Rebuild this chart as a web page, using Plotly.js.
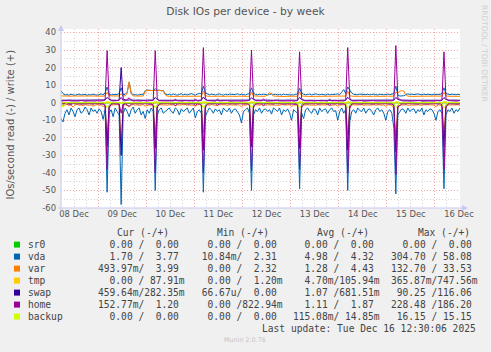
<!DOCTYPE html>
<html><head><meta charset="utf-8">
<script src="https://cdn.plot.ly/plotly-3.0.1.min.js"></script>
<style>html,body{margin:0;padding:0;background:#f0f0f0;}#chart{width:491px;height:352px;}</style>
</head><body><div id="chart"></div>
<script>
// hourly samples starting 2025-12-08 05:30; each row after the first starts at the daily 04:30 burst
const startTime = Date.UTC(2025, 11, 8, 5, 30);

const vdaRead = [
 -9,-11,-6,-4,-7,-3,-5,-8,-4,-3,-6,-5,-2.5,-4,-7,-3,-5,-4,-6,-3.5,-5,-9.5,-4,
 -51,-6,-4,-8,-3,-5,-7,-58,-6,-3,-5,-8,-4,-2.5,-6,-4,-3,-7,-5,-9,-4,-6,-3,-5,
 -50,-7,-4,-3,-6,-5,-4,-3,-5,-6,-3,-4,-7,-3.5,-5,-4,-3,-6,-4.5,-3,-8.7,-5,-4,-6,
 -51,-8,-5,-3,-4,-6,-3.5,-5,-4,-7,-3,-4.5,-5,-3,-6,-4,-3.5,-5,-7,-11.6,-5,-4,-3,-6,
 -50,-7,-4,-5,-3,-6,-4,-3.5,-5,-4,-6.5,-3,-4,-5,-3,-7,-4,-5,-3.5,-6,-10,-4,-5,-6,
 -49,-6,-9,-4,-3,-5,-6,-3.5,-4,-7,-3,-5,-4,-3.5,-6,-4,-3,-5,-4.5,-10,-5,-3,-6,-4,
 -50,-11,-5,-4,-6,-3,-4.5,-5,-3,-6,-4,-3.5,-5,-7,-4,-3,-5,-4,-6,-10,-5,-4,-6,-14.5,
 -52,-7,-5,-3.5,-4,-6,-3,-5,-4,-3.5,-6,-4,-5,-3,-7,-4,-5,-3.5,-4,-6,-10,-5,-4,-6,
 -49,-7,-4,-5,-3,-6,-4,-5,-3
];
const vdaWrite = [
 6.8,5.2,4.4,4.6,4.3,4.8,4.5,4.2,4.6,4.9,4.4,4.5,4.7,4.3,4.6,4.4,4.8,4.5,4.3,4.6,5.0,4.4,5.6,
 9.0,4.8,4.5,4.6,4.4,4.7,5.2,8.5,4.6,4.8,6.0,11.5,5.5,4.5,4.6,4.3,4.5,4.8,4.6,6.8,7.2,7.0,7.1,6.9,
 8.0,7.0,7.1,6.8,7.0,5.0,4.5,4.8,4.4,5.0,4.6,4.3,4.7,5.1,4.5,4.8,4.4,4.6,5.2,4.7,4.3,4.9,5.3,5.0,
 9.5,5.6,4.8,4.5,4.9,4.6,4.4,4.7,5.0,4.6,4.3,4.8,4.5,4.9,4.7,4.4,4.6,5.1,4.5,4.8,4.6,4.4,4.9,5.2,
 8.5,5.4,4.7,4.5,4.8,4.6,4.9,4.5,4.4,4.7,5.0,4.6,4.8,4.5,4.7,4.4,4.9,4.6,4.5,4.8,4.6,4.4,4.7,5.1,
 8.2,5.5,4.8,4.5,4.7,4.9,4.4,4.6,5.0,4.7,4.5,4.8,4.6,4.4,4.9,4.5,4.7,4.6,4.8,5.0,4.6,6.0,7.5,5.2,
 9.0,7.2,5.6,4.8,4.6,4.5,4.9,4.7,4.4,4.6,4.8,4.5,4.7,4.9,4.6,4.4,4.8,4.6,4.5,4.7,4.9,4.6,4.8,5.2,
 9.5,4.5,3.8,3.9,4.0,4.6,5.0,4.7,4.9,4.6,4.8,5.0,4.7,4.5,4.9,4.6,4.8,4.7,4.5,4.9,4.6,4.8,4.7,5.3,
 8.5,5.2,4.8,4.6,4.9,4.7,4.5,4.8,4.6
];
const varRead = [
 -1.5,-2,-1.2,-1,-1.5,-1.3,-2.5,-1.2,-1,-1.4,-1.2,-1.8,-1.1,-1.3,-1.5,-1.2,-2,-1.3,-1.1,-1.5,-1.2,-2.2,-1.4,
 -20,-2.5,-1.3,-1.2,-1.5,-1.1,-1.4,-23,-1.5,-1.2,-1.6,-2.5,-1.3,-1.1,-1.4,-1.2,-1.5,-1.3,-1.1,-2,-1.4,-1.2,-1.5,-1.3,
 -18,-2,-1.3,-1.1,-1.4,-1.2,-1.5,-1.1,-1.3,-1.2,-1.6,-1.1,-1.3,-1.4,-1.2,-1.1,-1.5,-1.3,-1.2,-1.4,-2,-1.2,-1.1,-1.5,
 -17,-2.2,-1.2,-1.4,-1.1,-1.3,-1.5,-1.2,-1.1,-1.4,-1.3,-1.2,-1.6,-1.1,-1.3,-1.2,-1.4,-1.1,-1.3,-2.4,-1.2,-1.4,-1.1,-1.3,
 -18,-2,-1.3,-1.2,-1.4,-1.1,-1.3,-1.5,-1.2,-1.3,-1.1,-1.4,-1.2,-1.3,-1.5,-1.1,-1.2,-1.4,-1.3,-1.1,-2.2,-1.3,-1.2,-1.4,
 -17,-2.1,-1.4,-1.2,-1.1,-1.3,-1.2,-1.4,-1.5,-1.1,-1.3,-1.2,-1.4,-1.1,-1.3,-1.2,-1.5,-1.3,-1.1,-2,-1.3,-1.2,-1.4,-1.2,
 -18,-2.5,-1.3,-1.1,-1.4,-1.2,-1.3,-1.1,-1.5,-1.2,-1.4,-1.3,-1.1,-1.2,-1.4,-1.3,-1.1,-1.5,-1.2,-2.1,-1.3,-1.2,-1.4,-3,
 -19,-2,-1.4,-1.2,-1.3,-1.1,-1.5,-1.2,-1.3,-1.4,-1.1,-1.2,-1.3,-1.5,-1.2,-1.1,-1.4,-1.3,-1.2,-1.4,-2.3,-1.2,-1.3,-1.5,
 -17,-2,-1.3,-1.2,-1.4,-1.1,-1.3,-1.2,-1.4
];
const varWrite = [
 3.9,3.8,3.7,3.8,3.8,3.7,3.8,3.9,3.8,3.7,3.8,3.8,3.9,3.8,3.7,3.8,3.8,3.7,3.8,3.9,3.8,3.7,4.0,
 6.0,3.9,3.8,3.8,3.7,3.8,3.9,5.0,3.8,3.9,5.5,12.0,5.0,3.9,3.8,3.8,3.7,3.8,3.8,6.5,7.0,6.9,7.0,6.8,
 7.0,6.9,7.0,6.8,6.9,4.5,3.7,3.6,3.6,3.7,3.6,3.5,3.6,3.6,3.7,3.6,3.5,3.6,3.6,3.7,3.6,3.6,3.5,3.7,
 6.5,3.9,3.7,3.6,3.6,3.5,3.6,3.7,3.6,3.6,3.5,3.6,3.7,3.6,3.6,3.5,3.6,3.6,3.7,3.6,3.6,3.5,3.6,3.7,
 6.0,3.9,3.7,3.6,3.7,3.6,3.6,3.7,4.5,5.8,4.8,3.8,3.7,3.6,3.6,3.7,3.6,3.5,3.6,3.6,3.7,3.6,3.6,3.7,
 6.2,3.9,3.7,3.6,3.6,3.7,3.6,3.5,3.6,3.6,3.7,3.6,3.6,3.5,3.6,3.7,3.6,3.6,3.5,3.6,3.7,3.6,3.6,3.8,
 6.5,4.0,3.7,3.6,3.6,3.5,3.6,3.7,3.6,3.6,3.5,3.6,3.6,3.7,3.6,3.6,3.5,3.6,3.6,3.7,3.6,3.6,3.7,3.8,
 6.0,5.5,6.7,6.8,6.6,4.5,3.7,3.6,3.6,3.7,3.6,3.6,3.5,3.6,3.7,3.6,3.6,3.5,3.6,3.7,3.6,3.6,3.7,3.8,
 6.0,3.9,3.7,3.6,3.6,3.7,3.6,3.6,3.7
];
const swapRead = [
 -0.3,-0.4,-0.3,-0.2,-0.3,-0.4,-0.3,-0.3,-0.2,-0.3,-0.4,-0.3,-0.3,-0.2,-0.3,-0.4,-0.3,-0.3,-0.2,-0.3,-0.3,-0.4,-0.5,
 -25,-1.5,-0.4,-0.3,-0.3,-0.4,-0.6,-30,-1.2,-0.4,-0.3,-0.5,-0.3,-0.2,-0.3,-0.4,-0.3,-0.3,-0.2,-0.3,-0.4,-0.3,-0.3,-0.4,
 -26,-1.2,-0.4,-0.3,-0.3,-0.2,-0.3,-0.4,-0.3,-0.3,-0.2,-0.3,-0.4,-0.3,-0.3,-0.2,-0.3,-0.4,-0.3,-0.3,-0.2,-0.3,-0.3,-0.4,
 -27,-1.3,-0.3,-0.4,-0.3,-0.3,-0.2,-0.3,-0.4,-0.3,-0.3,-0.2,-0.3,-0.4,-0.3,-0.3,-0.2,-0.3,-0.3,-0.4,-0.3,-0.3,-0.2,-0.4,
 -25,-1.2,-0.4,-0.3,-0.2,-0.3,-0.3,-0.4,-0.3,-0.2,-0.3,-0.3,-0.4,-0.3,-0.2,-0.3,-0.3,-0.4,-0.3,-0.3,-0.2,-0.3,-0.4,-0.4,
 -26,-1.1,-0.3,-0.3,-0.4,-0.3,-0.2,-0.3,-0.3,-0.4,-0.3,-0.2,-0.3,-0.3,-0.4,-0.3,-0.3,-0.2,-0.3,-0.4,-0.3,-0.3,-0.2,-0.4,
 -27,-1.3,-0.4,-0.3,-0.3,-0.2,-0.3,-0.4,-0.3,-0.3,-0.2,-0.3,-0.4,-0.3,-0.3,-0.2,-0.3,-0.4,-0.3,-0.3,-0.2,-0.3,-0.3,-0.5,
 -28,-1.4,-0.3,-0.3,-0.4,-0.3,-0.2,-0.3,-0.3,-0.4,-0.3,-0.3,-0.2,-0.3,-0.4,-0.3,-0.3,-0.2,-0.3,-0.3,-0.4,-0.3,-0.3,-0.4,
 -25,-1.2,-0.4,-0.3,-0.3,-0.2,-0.3,-0.4,-0.3
];
const swapWrite = [
 1.4,1.5,1.4,1.3,1.4,1.5,1.4,1.4,1.3,1.4,1.5,1.4,1.4,1.3,1.4,1.5,1.4,1.4,1.3,1.4,1.4,1.5,1.6,
 3.0,1.8,1.5,1.4,1.4,1.3,1.6,20.0,2.0,1.5,1.4,1.6,1.4,1.3,1.4,1.5,1.4,1.4,1.3,1.4,1.5,1.4,1.4,1.5,
 3.0,1.8,1.4,1.5,1.4,1.3,1.4,1.4,1.5,1.4,1.3,1.4,1.4,1.5,1.4,1.3,1.4,1.4,1.5,1.4,1.4,1.3,1.4,1.5,
 3.2,1.7,1.4,1.4,1.3,1.5,1.4,1.4,1.3,1.4,1.5,1.4,1.4,1.3,1.4,1.4,1.5,1.4,1.3,1.4,1.4,1.5,1.4,1.5,
 2.8,1.8,1.5,1.4,1.4,1.3,1.4,1.5,1.4,1.4,1.3,1.4,1.5,1.4,1.4,1.3,1.4,1.5,1.4,1.4,1.3,1.4,1.4,1.5,
 3.0,1.7,1.4,1.3,1.4,1.5,1.4,1.4,1.3,1.4,1.4,1.5,1.4,1.3,1.4,1.4,1.5,1.4,1.4,1.3,1.4,1.5,1.4,1.5,
 3.1,1.8,1.4,1.4,1.5,1.4,1.3,1.4,1.4,1.5,1.4,1.3,1.4,1.4,1.5,1.4,1.3,1.4,1.4,1.5,1.4,1.4,1.3,1.5,
 3.0,1.9,1.5,1.4,1.3,1.4,1.5,1.4,1.4,1.3,1.4,1.5,1.4,1.4,1.3,1.4,1.5,1.4,1.4,1.3,1.4,1.5,1.4,1.5,
 2.9,1.8,1.4,1.4,1.5,1.4,1.3,1.4,1.4
];
const homeRead = [
 -0.6,-0.8,-0.5,-0.7,-0.6,-1.0,-0.5,-0.6,-0.7,-0.5,-0.6,-0.8,-0.6,-0.5,-0.7,-0.6,-0.9,-0.5,-0.6,-0.7,-0.6,-0.8,-1.5,
 -38,-3.0,-0.9,-0.6,-0.7,-0.5,-0.8,-6.0,-0.7,-0.6,-1.5,-2.0,-0.8,-0.6,-0.5,-0.7,-0.6,-0.8,-0.5,-0.6,-0.7,-0.6,-0.9,-1.2,
 -40,-2.5,-0.8,-0.6,-0.5,-0.7,-0.6,-0.5,-0.8,-0.6,-1.8,-0.7,-0.5,-0.6,-0.7,-0.6,-0.5,-0.8,-0.6,-0.7,-1.5,-0.6,-0.8,-1.0,
 -40,-2.8,-0.7,-0.6,-0.8,-0.5,-0.6,-1.6,-0.7,-0.6,-0.5,-0.8,-0.6,-0.7,-0.5,-0.6,-0.8,-0.6,-0.5,-0.7,-0.6,-0.8,-0.7,-1.1,
 -39,-2.6,-0.8,-0.6,-0.5,-0.7,-1.8,-0.6,-0.5,-0.7,-0.6,-0.8,-0.5,-0.6,-0.7,-0.6,-0.5,-0.8,-0.6,-0.7,-0.6,-0.5,-0.8,-1.0,
 -38,-2.7,-0.7,-0.6,-0.8,-0.5,-0.6,-0.7,-0.5,-0.8,-0.6,-0.7,-0.5,-0.6,-0.8,-1.6,-0.6,-0.7,-0.5,-0.6,-0.8,-0.6,-0.7,-1.2,
 -40,-3.0,-0.8,-0.6,-0.7,-0.5,-0.6,-0.8,-0.6,-0.5,-0.7,-0.6,-0.8,-0.5,-0.6,-0.7,-0.6,-0.5,-0.8,-0.6,-0.7,-0.6,-0.8,-1.4,
 -41,-2.5,-1.8,-0.7,-0.6,-0.8,-0.5,-0.6,-0.7,-0.5,-0.6,-0.8,-0.6,-0.7,-0.5,-0.6,-0.8,-0.6,-0.5,-0.7,-0.6,-0.8,-0.6,-1.1,
 -38,-2.6,-0.8,-0.6,-0.7,-0.5,-0.6,-0.8,-0.6
];
const homeWrite = [
 1.0,1.1,0.9,1.0,1.2,1.0,0.9,1.1,1.0,1.0,1.3,1.0,0.9,1.0,1.1,1.0,1.0,0.9,1.2,1.0,1.0,1.1,1.5,
 29.7,2.5,1.2,1.0,1.1,1.0,1.3,3.0,1.2,1.0,2.2,2.8,1.5,1.0,1.1,1.0,0.9,1.0,1.2,1.0,1.0,1.1,1.0,1.3,
 29.7,2.2,1.1,1.0,1.0,1.2,0.9,1.0,1.1,1.0,2.0,1.1,1.0,0.9,1.0,1.2,1.0,1.0,1.1,0.9,2.1,1.0,1.1,1.2,
 31.4,2.4,1.2,1.0,1.1,1.0,0.9,2.0,1.0,1.1,1.0,1.0,1.2,0.9,1.0,1.1,1.0,1.0,0.9,1.1,1.0,1.0,1.2,1.3,
 30.0,2.3,1.1,1.0,1.0,1.1,2.2,1.0,0.9,1.0,1.1,1.0,1.0,1.2,1.0,0.9,1.0,1.1,1.0,1.0,1.2,0.9,1.0,1.2,
 29.0,2.5,1.2,1.0,1.0,1.1,1.0,0.9,1.0,1.2,1.0,1.0,1.1,0.9,1.0,2.0,1.0,1.1,1.0,1.0,0.9,1.1,1.0,1.3,
 31.4,2.6,1.1,1.0,1.1,1.0,1.0,1.2,0.9,1.0,1.1,1.0,1.0,1.2,1.0,0.9,1.0,1.1,1.0,1.0,1.2,1.0,1.1,1.4,
 32.6,2.2,2.0,1.1,1.0,1.2,1.0,0.9,1.0,1.1,1.0,1.0,1.2,0.9,1.0,1.1,1.0,1.0,0.9,1.1,1.0,1.2,1.0,1.3,
 29.0,2.4,1.2,1.0,1.1,1.0,0.9,1.0,1.2
];
const backupRead = [
 0,-2.5,-1.0,0,0,0,0,0,0,0,0,0,0,0,0,0,0,0,0,0,0,0,-0.5,
 -3,-1.5,0,0,0,0,0,0,0,0,0,0,0,0,0,0,0,0,0,0,0,0,0,-0.5,
 -3,-1.5,0,0,0,0,0,0,0,0,0,0,0,0,0,0,0,0,0,0,0,0,0,-0.5,
 -3,-1.5,0,0,0,0,0,0,0,0,0,0,0,0,0,0,0,0,0,0,0,0,0,-0.5,
 -3,-1.5,0,0,0,0,0,0,0,0,0,0,0,0,0,0,0,0,0,0,0,0,0,-0.5,
 -3,-1.5,0,0,0,0,0,0,0,0,0,0,0,0,0,0,0,0,0,0,0,0,0,-0.5,
 -3,-1.5,0,0,0,0,0,0,0,0,0,0,0,0,0,0,0,0,0,0,0,0,0,-0.5,
 -3,-1.5,0,0,0,0,0,0,0,0,0,0,0,0,0,0,0,0,0,0,0,0,0,-0.5,
 -3,-1.5,0,0,0,0,0,0,0
];
const backupWrite = [
 0,0,0,0,0,0,0,0,0,0,0,0,0,0,0,0,0,0,0,0,0,0,0,
 0.8,0.3,0,0,0,0,0,0,0,0,0,0,0,0,0,0,0,0,0,0,0,0,0,0,
 0.8,0.3,0,0,0,0,0,0,0,0,0,0,0,0,0,0,0,0,0,0,0,0,0,0,
 0.8,0.3,0,0,0,0,0,0,0,0,0,0,0,0,0,0,0,0,0,0,0,0,0,0,
 0.8,0.3,0,0,0,0,0,0,0,0,0,0,0,0,0,0,0,0,0,0,0,0,0,0,
 0.8,0.3,0,0,0,0,0,0,0,0,0,0,0,0,0,0,0,0,0,0,0,0,0,0,
 0.8,0.3,0,0,0,0,0,0,0,0,0,0,0,0,0,0,0,0,0,0,0,0,0,0,
 0.8,0.3,0,0,0,0,0,0,0,0,0,0,0,0,0,0,0,0,0,0,0,0,0,0,
 0.8,0.3,0,0,0,0,0,0,0
];
// nearly flat devices: only the endpoints
const flatTimes = ['2025-12-08 05:30', '2025-12-16 12:30'];
const sr0Read = [0, 0], sr0Write = [0, 0];
const tmpRead = [0, 0], tmpWrite = [0.09, 0.09];

const devices = ['sr0', 'vda', 'var', 'tmp', 'swap', 'home', 'backup'];
const deviceColors = ['#00CC00', '#0066B3', '#FF8000', '#FFCC00', '#330099', '#990099', '#CCFF00'];
const legendCur = ['  0.00 /  0.00 ', '  1.70 /  3.77 ', '493.97m/  3.99 ', '  0.00 / 87.91m', '459.64m/282.35m', '152.77m/  1.20 ', '  0.00 /  0.00 '];
const legendMin = ['  0.00 /  0.00 ', ' 10.84m/  2.31 ', '  0.00 /  2.32 ', '  0.00 /  1.20m', ' 66.67u/  0.00 ', '  0.00 /822.94m', '  0.00 /  0.00 '];
const legendAvg = ['  0.00 /  0.00 ', '  4.98 /  4.32 ', '  1.28 /  4.43 ', '  4.70m/105.94m', '  1.07 /681.51m', '  1.11 /  1.87 ', '115.08m/ 14.85m'];
const legendMax = ['  0.00 /  0.00 ', '304.70 / 58.08 ', '132.70 / 33.53 ', '365.87m/747.56m', ' 90.25 /116.06 ', '228.48 /186.20 ', ' 16.15 / 15.15 '];
const yTickVals = [-60, -50, -40, -30, -20, -10, 0, 10, 20, 30, 40];
const yTickLabels = ['-60', '-50', '-40', '-30', '-20', '-10', '0', '10', '20', '30', '40'];

const hours = vdaRead.map((_, i) => new Date(startTime + i * 3600000).toISOString().slice(0, 19).replace('T', ' '));

const series = {
  sr0: [flatTimes, sr0Read, sr0Write],
  vda: [hours, vdaRead, vdaWrite],
  var: [hours, varRead, varWrite],
  tmp: [flatTimes, tmpRead, tmpWrite],
  swap: [hours, swapRead, swapWrite],
  home: [hours, homeRead, homeWrite],
  backup: [hours, backupRead, backupWrite]
};

const traces = [];
devices.forEach((d, k) => {
  const [t, r, w] = series[d];
  traces.push({x: t, y: r, type: 'scatter', mode: 'lines', line: {color: deviceColors[k], width: 1}, showlegend: false, hoverinfo: 'skip'});
  traces.push({x: t, y: w, type: 'scatter', mode: 'lines', line: {color: deviceColors[k], width: 1}, showlegend: false, hoverinfo: 'skip'});
});

const L = 61, T = 29, W = 399, H = 179;
const px = x => (x - L) / W;
const py = y => (T + H - y) / H;
const nb = s => s.replace(/ /g, '\u00A0');
const mono = {family: 'DejaVu Sans Mono', size: 9.6, color: '#444'};

const ann = [];
function txt(text, x, y, font, opts) {
  ann.push(Object.assign({text: nb(text), xref: 'paper', yref: 'paper', x: px(x), y: py(y), showarrow: false,
    xanchor: 'left', yanchor: 'middle', font: font, borderpad: 0}, opts || {}));
}
txt('Cur (-/+)', 115.7, 232.5, mono);
txt('Min (-/+)', 216, 232.5, mono);
txt('Avg (-/+)', 316, 232.5, mono);
txt('Max (-/+)', 417, 232.5, mono);
const shapes = [];
devices.forEach((d, k) => {
  const yc = 244.6 + 12 * k;
  txt(d, 26.7, yc, mono);
  txt(legendCur[k], 97.4, yc, mono);
  txt(legendMin[k], 195.4, yc, mono);
  txt(legendAvg[k], 292.4, yc, mono);
  txt(legendMax[k], 390.4, yc, mono);
  shapes.push({type: 'rect', xref: 'paper', yref: 'paper', x0: px(14), x1: px(20), y0: py(yc + 3), y1: py(yc - 3),
    fillcolor: deviceColors[k], line: {width: 0}});
});
txt('Last update: Tue Dec 16 12:30:06 2025', 477, 328.8, mono, {xanchor: 'right'});
txt('Munin 2.0.76', 245, 340, {family: 'DejaVu Sans', size: 6.4, color: '#c4c4c4'}, {xanchor: 'center'});
txt('IOs/second read (-) / write (+)', 9.5, 125, {family: 'DejaVu Sans', size: 10, color: '#555'}, {xanchor: 'center', textangle: -90});
txt('RRDTOOL / TOBI OETIKER', 484, 53, {family: 'DejaVu Sans', size: 7.5, color: '#cfcfcf'}, {xanchor: 'center', textangle: 90});

// axis lines with arrows
const axisCol = '#c8c8f2';
shapes.push({type: 'line', xref: 'paper', yref: 'paper', x0: px(61), x1: px(61), y0: py(211), y1: py(29), line: {color: axisCol, width: 1}});
shapes.push({type: 'line', xref: 'paper', yref: 'paper', x0: px(58), x1: px(464), y0: py(208), y1: py(208), line: {color: axisCol, width: 1}});
shapes.push({type: 'path', xref: 'paper', yref: 'paper', path: `M ${px(58)} ${py(31)} L ${px(64)} ${py(31)} L ${px(61)} ${py(25)} Z`, fillcolor: axisCol, line: {width: 0}});
shapes.push({type: 'path', xref: 'paper', yref: 'paper', path: `M ${px(462)} ${py(205)} L ${px(462)} ${py(211)} L ${px(468)} ${py(208)} Z`, fillcolor: axisCol, line: {width: 0}});

const tickFont = {family: 'DejaVu Sans', size: 8.4, color: '#555'};
const layout = {
  width: 491, height: 352,
  margin: {l: L, r: 491 - L - W, t: T, b: 352 - T - H, pad: 0},
  paper_bgcolor: '#f0f0f0', plot_bgcolor: '#ffffff',
  title: {text: 'Disk IOs per device - by week', font: {family: 'DejaVu Sans', size: 10.7, color: '#555'},
    x: 0.5, xref: 'container', xanchor: 'center', y: 1 - 11.7 / 352, yref: 'container', yanchor: 'middle'},
  xaxis: {type: 'date', range: ['2025-12-08 05:30', '2025-12-16 12:30'], tick0: '2025-12-08', dtick: 86400000,
    tickformat: '%d %b', ticklabelmode: 'period', ticks: '', showline: false, zeroline: false,
    showgrid: true, gridcolor: '#f4a6a6', griddash: '1px,2px', gridwidth: 1,
    minor: {dtick: 6 * 3600000, showgrid: true, gridcolor: '#d6d6d6', griddash: '1px,2px', gridwidth: 1},
    tickfont: tickFont, fixedrange: true},
  yaxis: {range: [-60, 42], tickmode: 'array', tickvals: yTickVals, ticktext: yTickLabels, ticks: '',
    showline: false, zeroline: false, showgrid: true, gridcolor: '#f4a6a6', griddash: '1px,2px', gridwidth: 1,
    minor: {tickmode: 'linear', tick0: 0, dtick: 5, showgrid: true, gridcolor: '#d6d6d6', griddash: '1px,2px', gridwidth: 1},
    tickfont: tickFont, ticklabelstandoff: 4, fixedrange: true},
  showlegend: false,
  annotations: ann,
  shapes: shapes
};
Plotly.newPlot('chart', traces, layout, {staticPlot: true, displayModeBar: false});
</script>
</body></html>
